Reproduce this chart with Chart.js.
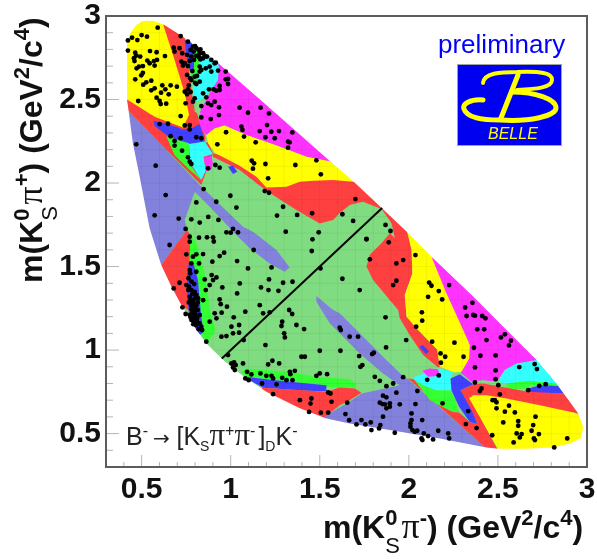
<!DOCTYPE html>
<html lang="en">
<head>
    <meta charset="UTF-8">
    <title>Dalitz plot B- to [Ks pi+ pi-]D K-</title>
    <script src="https://cdn.jsdelivr.net/npm/chart.js"></script>
    <style>
        body { margin: 0; background: #fff; }
        canvas { display: block; }
    </style>
</head>
<body>
    <canvas id="dalitz" width="597" height="559"></canvas>

    <script>
        const majorTicks = [0.5, 1, 1.5, 2, 2.5, 3];
        const minorTicks = [0.4, 0.6, 0.7, 0.8, 0.9, 1.1, 1.2, 1.3, 1.4, 1.6, 1.7, 1.8, 1.9, 2.1, 2.2, 2.3, 2.4, 2.6, 2.7, 2.8, 2.9];
        const axisMin = 0.3;
        const axisMax = 3;

        // kinematic boundary, clockwise on screen
        const outline = [[.418,2.497],[.418,2.836],[.436,2.896],[.47,2.946],[.507,2.97],[.564,2.972],[.629,2.946],[.732,2.876],[.826,2.806],[.919,2.727],[1.013,2.641],[1.2,2.467],[1.388,2.291],[1.556,2.132],[1.668,2.03],[1.8,1.898],[1.987,1.71],[2.127,1.559],[2.361,1.32],[2.548,1.12],[2.717,.94],[2.829,.8],[2.951,.62],[2.979,.54],[2.964,.47],[2.904,.44],[2.81,.417],[2.66,.41],[2.5,.41],[2.436,.417],[2.174,.471],[1.893,.521],[1.668,.561],[1.537,.591],[1.388,.651],[1.2,.751],[1.088,.83],[1.013,.89],[.948,.95],[.863,1.04],[.788,1.15],[.723,1.27],[.667,1.38],[.61,1.51],[.545,1.73],[.489,2.038],[.451,2.238],[.429,2.417],[.418,2.497]];

        // bins, listed from the bottom layer up
        const periLeft = [[.423,2.437],[.62,2.218],[.826,1.988],[1.069,1.738],[1.125,1.709],[1.257,1.599],[1.331,1.495],[1.303,1.469],[1.219,1.519],[1.107,1.609],[1.022,1.699],[.882,1.858],[.798,1.948],[.742,1.778],[.755,1.719],[.61,1.51],[.4,1.5],[.32,2.4]];
        const periRight = [[1.481,1.323],[1.575,1.24],[1.612,1.22],[1.724,1.1],[1.855,.96],[1.968,.844],[1.996,.826],[2.436,.41],[2.2,.4],[1.6,.5],[1.5,.55],[1.519,.601],[1.668,.69],[1.734,.74],[1.949,.79],[1.855,.86],[1.724,.98],[1.612,1.1],[1.556,1.16],[1.481,1.29]];
        const greenBottom = [[1.06,.87],[1.088,.89],[1.313,.87],[1.481,.84],[1.668,.826],[1.702,.796],[1.696,.775],[1.612,.776],[1.537,.78],[1.537,.79],[1.388,.805],[1.2,.826],[1.088,.84]];
        const blueBottom = [[1.088,.84],[1.2,.826],[1.388,.805],[1.537,.79],[1.537,.754],[1.425,.756],[1.182,.775],[1.107,.82]];
        const redBottom = [[1.178,.775],[1.537,.75],[1.612,.776],[1.696,.77],[1.734,.745],[1.668,.7],[1.612,.67],[1.537,.607],[1.4,.5],[1.15,.7]];
        const redLeft = [[.755,1.719],[.773,1.689],[.77,1.529],[.755,1.459],[.76,1.32],[.773,1.23],[.723,1.27],[.6,1.3],[.61,1.51]];
        const greenLeft = [[.773,1.695],[.807,1.639],[.826,1.579],[.854,1.459],[.891,1.2],[.916,1.12],[.867,1.036],[.826,1.1],[.77,1.529]];
        const blueLeft = [[.766,1.529],[.788,1.529],[.816,1.42],[.835,1.2],[.848,1.11],[.826,1.09],[.77,1.18],[.755,1.32],[.755,1.459]];
        const redTop = [[.62,2.952],[.741,2.876],[.788,2.497],[.835,2.337],[.9,2.178],[.835,1.988],[.62,2.218],[.423,2.437],[.414,2.507],[.732,2.333]];
        const yellowLobe = [[.62,2.952],[.685,2.737],[.742,2.537],[.766,2.407],[.732,2.333],[.573,2.397],[.423,2.497],[.38,2.5],[.38,3],[.6,3]];
        const blueUpper = [[.741,2.856],[.779,2.846],[.794,2.796],[.798,2.677],[.77,2.667],[.755,2.737]];
        const greenUpper = [[.785,2.826],[.845,2.786],[.822,2.716],[.807,2.607],[.783,2.607],[.773,2.667],[.798,2.677],[.794,2.796]];
        const magentaTop = [[.92,2.727],[.95,2.75],[1.6,2.15],[1.556,2.124],[1.425,2.158],[1.257,2.224],[1.088,2.288],[.966,2.345],[.91,2.327],[.863,2.288],[.83,2.327],[.822,2.417],[.891,2.557]];
        const cyanUpper = [[.835,2.78],[.934,2.707],[.929,2.617],[.891,2.557],[.835,2.497],[.792,2.487],[.788,2.597],[.816,2.617],[.822,2.716]];
        const paleUpper = [[.792,2.487],[.826,2.487],[.83,2.407],[.798,2.427]];
        const blueWaist = [[.567,2.373],[.639,2.357],[.732,2.321],[.779,2.327],[.826,2.353],[.848,2.278],[.854,2.242],[.766,2.234],[.648,2.281],[.573,2.341]];
        const greenWaist = [[.639,2.278],[.766,2.238],[.766,2.118],[.835,2.018],[.77,2.078],[.685,2.168]];
        const cyanWaist = [[.766,2.234],[.854,2.248],[.9,2.174],[.848,2.158],[.86,2.074],[.835,2.018],[.773,2.118]];
        const magentaWaist = [[.848,2.154],[.891,2.162],[.9,2.118],[.891,2.078],[.863,2.072]];
        const paleWaist = [[.86,2.288],[.878,2.242],[.854,2.242]];
        const redRight = [[.9,2.178],[1.388,2.038],[1.668,2.038],[1.8,1.95],[1.99,1.72],[2.015,1.6],[2.02,1.459],[1.977,1.33],[1.987,1.2],[2.052,1.12],[2.159,1.004],[2.174,.9],[2.164,.896],[2.08,.97],[2.005,1.09],[1.949,1.19],[1.94,1.24],[1.799,1.42],[1.762,1.5],[1.781,1.57],[1.846,1.639],[1.893,1.699],[1.921,1.671],[1.903,1.76],[1.847,1.844],[1.742,1.888],[1.668,1.868],[1.612,1.82],[1.575,1.778],[1.5,1.758],[1.369,1.838],[1.2,1.954],[1.05,2.078],[.9,2.158]];
        const yellowMiddle = [[.863,2.288],[.91,2.327],[.966,2.345],[1.088,2.288],[1.257,2.224],[1.425,2.158],[1.556,2.13],[1.72,2],[1.687,2.008],[1.575,2.018],[1.462,2.014],[1.388,2.008],[1.313,1.978],[1.2,1.974],[1.144,2.038],[1.05,2.104],[.91,2.182],[.873,2.238]];
        const blueStripe = [[.985,2.098],[1.013,2.104],[1.037,2.068],[1.013,2.054]];
        const blueEllipse = [[2.058,1.02],[2.08,1.03],[2.114,.99],[2.095,.976]];
        const magentaRight = [[2.127,1.559],[2.3,1.5],[2.75,.98],[2.717,.93],[2.605,.92],[2.539,.88],[2.492,.81],[2.408,.82],[2.352,.81],[2.296,.86],[2.2,1.1]];
        const yellowRight = [[1.99,1.709],[2,1.75],[2.15,1.58],[2.127,1.559],[2.211,1.34],[2.305,1.12],[2.342,1.03],[2.339,.95],[2.296,.87],[2.258,.865],[2.174,.9],[2.159,1.004],[2.052,1.12],[1.987,1.2],[1.977,1.33],[2.02,1.459],[2.015,1.6]];
        const cyanRight = [[2.717,.94],[2.85,.8],[2.829,.796],[2.679,.815],[2.548,.797],[2.501,.81],[2.539,.88],[2.605,.92]];
        const greenRight = [[2.548,.8],[2.679,.816],[2.829,.797],[2.848,.78],[2.679,.79],[2.67,.77],[2.548,.766]];
        const blueRight = [[2.67,.77],[2.735,.79],[2.839,.785],[2.87,.74],[2.735,.74],[2.67,.75]];
        const paleRight = [[2.408,.82],[2.492,.81],[2.501,.78],[2.436,.79]];
        const redLower = [[1.996,.83],[2.028,.826],[2.118,.7],[2.249,.63],[2.282,.627],[2.342,.57],[2.384,.557],[2.29,.76],[2.361,.796],[2.417,.8],[2.501,.784],[2.67,.75],[2.87,.74],[2.96,.62],[2.339,.72],[2.5,.4],[2.436,.41]];
        const yellowLower = [[2.339,.71],[2.361,.73],[2.436,.73],[2.548,.71],[2.735,.67],[2.923,.627],[2.96,.61],[3,.6],[3,.38],[2.5,.38],[2.5,.41]];
        const greenLower = [[2.028,.83],[2.08,.79],[2.155,.76],[2.23,.76],[2.258,.71],[2.282,.63],[2.249,.63],[2.118,.7]];
        const cyanLower = [[2.033,.84],[2.164,.89],[2.249,.87],[2.234,.83],[2.239,.76],[2.155,.76],[2.08,.79],[2.028,.826]];
        const magentaLower = [[2.076,.876],[2.118,.89],[2.164,.885],[2.174,.846],[2.108,.84]];
        const paleLower = [[2.249,.86],[2.271,.87],[2.282,.846],[2.258,.84]];
        const blueLower = [[2.234,.83],[2.286,.856],[2.361,.796],[2.29,.76],[2.352,.64],[2.384,.557],[2.342,.57],[2.282,.66],[2.239,.76]];

        const diagonal = [[.95,.95],[1.85,1.85]];

        // events
        const eventsLobe = [[.59,2.93],[.5,2.886],[.446,2.87],[.423,2.854],[.476,2.856],[.53,2.876],[.423,2.793],[.464,2.78],[.547,2.79],[.584,2.783],[.47,2.763],[.492,2.757],[.457,2.747],[.46,2.73],[.532,2.733],[.545,2.717],[.569,2.73],[.586,2.737],[.631,2.76],[.573,2.703],[.507,2.7],[.485,2.697],[.472,2.687],[.507,2.66],[.498,2.645],[.464,2.621],[.554,2.613],[.526,2.603],[.509,2.589],[.573,2.567],[.554,2.555],[.633,2.561],[.616,2.585],[.663,2.585],[.698,2.577],[.609,2.541],[.652,2.531],[.584,2.511],[.601,2.491],[.607,2.473],[.638,2.475],[.481,2.491]];
        const eventsTopCluster = [[.719,2.88],[.68,2.81],[.713,2.807],[.685,2.787],[.728,2.777],[.76,2.846],[.788,2.817],[.807,2.807],[.82,2.797],[.845,2.777],[.867,2.757],[.891,2.737],[.916,2.721],[.775,2.797],[.792,2.787],[.826,2.777],[.755,2.767],[.779,2.757],[.723,2.727],[.742,2.717],[.77,2.731],[.732,2.703],[.755,2.647],[.773,2.627],[.798,2.637],[.811,2.641],[.826,2.667],[.835,2.677],[.86,2.687],[.882,2.697],[.891,2.667],[.826,2.697],[.91,2.717],[.807,2.761],[.822,2.753],[.794,2.737],[.845,2.747],[.779,2.617],[.76,2.561],[.742,2.547],[.755,2.531],[.807,2.593],[.826,2.607],[.845,2.537],[.878,2.561],[.904,2.561],[.919,2.553],[.938,2.557],[.863,2.513],[.91,2.487],[.891,2.467],[.873,2.477],[.747,2.477],[.788,2.487],[.798,2.507],[.835,2.461],[.8,2.82],[.83,2.8],[.855,2.76],[.83,2.74],[.76,2.7],[.785,2.67],[.8,2.6],[.765,2.585],[.775,2.545]];
        const eventsMagentaTop = [[.929,2.673],[.972,2.667],[.985,2.623],[.972,2.621],[.985,2.593],[.938,2.581],[1.05,2.451],[1.097,2.421],[1.168,2.451],[1.215,2.417],[1.204,2.347],[1.228,2.307],[1.271,2.311],[1.163,2.311],[1.346,2.303],[1.195,2.274],[1.247,2.268],[1.322,2.248],[1.331,2.244],[1.322,2.212],[.888,2.383],[.934,2.407],[.934,2.453],[.835,2.393],[1.06,2.338],[1.066,2.318],[.719,2.401],[.77,2.347],[.77,2.321],[.742,2.345],[.648,2.355],[.601,2.353]];
        const eventsWaist = [[.719,2.268],[.663,2.28],[.685,2.252],[.685,2.224],[.727,2.194],[.76,2.154],[.77,2.128],[.779,2.114],[.807,2.274],[.835,2.268],[.47,2.232],[.579,2.104],[.635,1.928],[.573,1.807],[.708,1.787],[.807,1.884],[.848,1.964],[.919,1.888],[.998,1.924],[1.032,1.853],[1.191,1.952],[1.215,1.942],[.925,2.232],[.974,2.304],[1.075,2.278],[1.14,2.244],[1.118,2.134],[1.131,2.118],[1.125,2.086],[1.195,2.114],[1.363,2.108],[1.481,2.136],[1.506,2.052],[1.21,2.028],[1.294,1.858],[1.26,1.805],[1.373,1.809],[1.457,1.819],[1.494,1.705],[1.309,1.709],[1.459,1.663],[.914,2.108],[.938,2.092],[.873,2.088],[.779,1.783],[.826,1.763],[.874,1.797],[.931,1.779],[.747,1.725],[.77,1.679],[.822,1.673],[.867,1.675],[.901,1.675],[.976,1.705],[1.013,1.725],[1,1.703],[1.041,1.705],[1.7,1.904],[1.627,1.813],[1.687,1.773],[1.869,1.749],[1.897,1.713],[1.762,1.665]];
        const eventsLeft = [[.657,1.629],[.77,1.649],[.905,1.65],[1.129,1.599],[1.455,1.593],[.751,1.573],[.779,1.519],[.77,1.479],[.773,1.459],[.807,1.573],[.788,1.559],[.845,1.575],[.822,1.519],[.807,1.469],[.854,1.423],[.713,1.403],[.68,1.369],[.751,1.389],[.766,1.379],[.779,1.359],[.798,1.349],[.77,1.319],[.807,1.329],[.817,1.309],[.788,1.299],[.779,1.269],[.807,1.269],[.798,1.239],[.77,1.21],[.788,1.196],[.811,1.19],[.826,1.21],[.798,1.17],[.817,1.16],[.835,1.14],[.747,1.216],[.729,1.256],[.845,1.299],[.86,1.359],[.882,1.389],[.901,1.419],[.893,1.449],[.92,1.435],[.963,1.583],[.938,1.563],[.897,1.529],[1.036,1.533],[1.097,1.489],[1.051,1.399],[.953,1.375],[1.036,1.339],[.938,1.303],[.944,1.275],[.979,1.26],[.949,1.224],[.91,1.22],[.92,1.19],[1.017,1.196],[1.004,1.14],[1.047,1.15],[.882,1.17],[.976,1.084],[.948,1.08],[1.013,1.1],[1.047,1.104],[1.073,1.06],[1.082,1.23],[.863,1.05]];
        const eventsBlueBand = [[.763,1.43],[.78,1.41],[.795,1.395],[.762,1.36],[.785,1.335],[.8,1.31],[.775,1.3],[.79,1.28],[.765,1.285],[.815,1.285],[.8,1.255],[.78,1.245],[.815,1.24],[.785,1.225],[.8,1.215],[.78,1.18],[.805,1.2],[.79,1.185],[.775,1.195],[.81,1.17],[.79,1.155],[.805,1.15],[.825,1.16],[.82,1.125],[.84,1.12]];
        const eventsCentre = [[1.215,1.423],[1.17,1.375],[1.212,1.359],[1.294,1.403],[1.347,1.409],[1.268,1.355],[1.229,1.495],[1.504,1.489],[1.627,1.427],[1.163,1.269],[1.182,1.22],[1.219,1.226],[1.328,1.24],[1.345,1.216],[1.289,1.17],[1.285,1.144],[1.369,1.15],[1.412,1.126],[1.3,1.1],[1.304,1.076],[1.195,1.03],[1.5,.996],[1.616,.996],[1.397,.96],[1.416,.96]];
        const eventsBottomLeft = [[.985,.97],[1.004,.92],[1.019,.926],[1.028,.91],[1.013,.896],[1.023,.88],[1.069,.92],[1.21,.914],[1.234,.936],[1.272,.92],[1.092,.87],[1.116,.854],[1.167,.86],[1.2,.846],[1.229,.846],[1.238,.83],[1.289,.834],[1.313,.82],[1.332,.87],[1.36,.876],[1.335,.856],[1.347,.82],[1.481,.846],[1.5,.86],[1.541,.856],[1.082,.83],[1.101,.82],[1.176,.8],[1.257,.795],[1.238,.736],[1.547,.746],[1.56,.74],[1.566,.69],[1.453,.71],[1.388,.7],[1.448,.68],[1.44,.63],[1.506,.625],[1.547,.625],[1.644,.617],[1.665,.58],[1.654,.685]];
        const eventsRightUpper = [[1.762,1.663],[1.887,1.645],[2.037,1.569],[1.781,1.543],[1.968,1.539],[1.93,1.519],[1.93,1.415],[1.912,1.389],[1.724,1.359],[1.869,1.196],[2.114,1.404],[2.127,1.385],[2.168,1.353],[2.108,1.319],[2.187,1.303],[2.226,1.389],[2.357,1.283],[2.316,1.255],[2.324,1.204],[2.361,1.21],[2.371,1.206],[2.412,1.204],[2.43,1.19],[2.073,1.226],[2.075,1.176],[2.041,1.14],[2.384,1.124],[2.423,1.124],[2.436,1.06],[2.539,1.094],[2.517,1.076],[2.573,1.056],[2.562,1.028],[2.131,1.05],[2.256,1.044],[1.985,1.06],[2.365,1.014],[2.178,.98],[2.204,.96],[2.307,.96],[2.402,.966],[2.487,.968],[2.371,.896],[2.487,.878],[2.18,.924],[2.62,.898],[2.706,.916],[2.719,.886],[2.732,.786],[2.768,.796],[2.67,.76],[2.487,.826],[2.502,.79]];
        const eventsPeriRight = [[1.715,1.08],[1.668,1.08],[1.618,1.12],[1.612,1.134],[1.721,.964],[1.803,.984],[1.794,.976],[1.872,1.016],[1.739,.91],[1.728,.9],[1.809,.84],[1.837,.816],[1.874,.784],[1.912,.8],[1.968,.838],[2.168,.848],[2.103,.822],[2.048,.755],[1.93,.745],[1.855,.727],[1.874,.717],[1.837,.685],[1.852,.677],[1.865,.675],[1.893,.681],[1.893,.661],[1.874,.651],[1.949,.675],[2.037,.677],[2.189,.681],[1.734,.581],[1.706,.555],[1.756,.555],[1.786,.567],[1.79,.521],[1.84,.551],[1.833,.531],[1.855,.601],[1.921,.505],[2.015,.621],[2.075,.581],[2.015,.581],[2.009,.561],[2.009,.541],[2.02,.521],[2.033,.511],[2.047,.517],[2.071,.471],[2.084,.501],[2.076,.461],[2.108,.485],[2.136,.465],[2.165,.517],[2.221,.501],[2.226,.471],[2.32,.557],[2.38,.533],[2.333,.635]];
        const eventsYellowLower = [[2.371,.806],[2.408,.77],[2.399,.755],[2.511,.735],[2.47,.7],[2.483,.7],[2.492,.687],[2.492,.651],[2.562,.667],[2.539,.631],[2.595,.627],[2.711,.601],[2.698,.551],[2.53,.567],[2.614,.575],[2.614,.547],[2.689,.517],[2.73,.497],[2.605,.501],[2.633,.497],[2.623,.477],[2.702,.471],[2.708,.461],[2.588,.447],[2.889,.471],[2.816,.417],[2.468,.49]];

        const RED = '#ff4040', YELLOW = '#ffff00', PALE = '#80dc80', PERI = '#8282dc', MAGENTA = '#ff33ff', CYAN = '#33ffff', GREEN = '#33ff33', BLUE = '#4040ff';

        const layers = [
            [outline, PALE], [periLeft, PERI], [periRight, PERI],
            [greenBottom, GREEN], [blueBottom, BLUE], [redBottom, RED],
            [redLeft, RED], [greenLeft, GREEN], [blueLeft, BLUE],
            [redTop, RED], [yellowLobe, YELLOW], [magentaTop, MAGENTA],
            [blueUpper, BLUE], [greenUpper, GREEN], [cyanUpper, CYAN], [paleUpper, PALE],
            [blueWaist, BLUE], [greenWaist, GREEN], [cyanWaist, CYAN], [magentaWaist, MAGENTA], [paleWaist, PALE],
            [redRight, RED], [yellowMiddle, YELLOW], [blueStripe, BLUE], [blueEllipse, BLUE],
            [magentaRight, MAGENTA], [yellowRight, YELLOW], [cyanRight, CYAN], [greenRight, GREEN], [blueRight, BLUE], [paleRight, PALE],
            [redLower, RED], [yellowLower, YELLOW], [greenLower, GREEN], [cyanLower, CYAN], [magentaLower, MAGENTA], [paleLower, PALE], [blueLower, BLUE]
        ];

        const toPoints = list => list.map(p => ({x: p[0], y: p[1]}));
        const closed = list => toPoints(list.concat([list[0]]));

        const datasets = layers.map((layer, i) => ({
            data: closed(layer[0]),
            showLine: true,
            fill: 'shape',
            backgroundColor: layer[1],
            borderWidth: 0,
            pointRadius: 0,
            order: 200 - i
        }));

        // faint bin grid on the coloured part
        const gridPoints = [];
        majorTicks.concat(minorTicks).forEach(v => {
            gridPoints.push({x: v, y: axisMin}, {x: v, y: axisMax}, {x: null, y: null});
            gridPoints.push({x: axisMin, y: v}, {x: axisMax, y: v}, {x: null, y: null});
        });
        datasets.push({data: gridPoints, showLine: true, borderColor: 'rgba(0,0,0,0.05)', borderWidth: 1, pointRadius: 0, order: 3});

        // white everywhere outside the boundary
        const frame = [[axisMin, axisMin], [axisMax, axisMin], [axisMax, axisMax], [axisMin, axisMax], [axisMin, axisMin]];
        datasets.push({
            data: toPoints(frame.concat(outline, [frame[0]])),
            showLine: true,
            fill: 'shape',
            backgroundColor: '#ffffff',
            borderWidth: 0,
            pointRadius: 0,
            order: 2
        });

        datasets.push({data: toPoints(diagonal), showLine: true, borderColor: '#000', borderWidth: 2, pointRadius: 0, order: 1});

        datasets.push({
            data: toPoints([].concat(eventsLobe, eventsTopCluster, eventsMagentaTop, eventsWaist, eventsLeft, eventsBlueBand, eventsCentre, eventsBottomLeft, eventsRightUpper, eventsPeriRight, eventsYellowLower)),
            backgroundColor: '#000',
            borderWidth: 0,
            pointRadius: 2.4,
            order: 0
        });

        const SANS = '"Liberation Sans", Arial, sans-serif';

        // text with sub and superscripts: [text, font, shift, keepPosition]
        function drawRuns(ctx, runs, x, y) {
            ctx.textAlign = 'left';
            ctx.textBaseline = 'alphabetic';
            let pos = x;
            runs.forEach(r => {
                ctx.font = r[1];
                ctx.fillText(r[0], pos, y + (r[2] || 0));
                if (!r[3]) pos += ctx.measureText(r[0]).width;
            });
        }

        const big = 'bold 32px ' + SANS, small = 'bold 22px ' + SANS, thin = '22px ' + SANS, pi = '36px "Liberation Serif", serif';
        const titleX = [['m(K', big], ['0', small, -13, true], ['S', thin, 15], [' ', '6px ' + SANS], ['π', pi], ['-', small, -13], [') (GeV', big], ['2', small, -13], ['/c', big], ['4', small, -13], [')', big]];
        const titleY = [['m(K', big], ['0', small, -13, true], ['S', thin, 15], [' ', '6px ' + SANS], ['π', pi], ['+', small, -13], [') (GeV', big], ['2', small, -13], ['/c', big], ['4', small, -13], [')', big]];

        const note = '25px ' + SANS, noteUp = '16px ' + SANS, noteDown = '14px ' + SANS, notePi = '31px "Liberation Serif", serif';
        const annotation = [['B', note], ['-', noteUp, -9], [' ', '18px ' + SANS], ['→', '20px "DejaVu Sans", sans-serif'], [' ', '24px ' + SANS], ['[K', note], ['S', noteDown, 6], ['π', notePi], ['+', noteUp, -9], ['π', notePi], ['-', noteUp, -9], [' ', '11px ' + SANS], [']', note], ['D', noteDown, 6], ['K', note], ['-', noteUp, -9]];

        const decorations = {
            id: 'decorations',
            afterDraw(chart) {
                const ctx = chart.ctx, area = chart.chartArea, sx = chart.scales.x, sy = chart.scales.y;
                ctx.save();

                // inward ticks
                ctx.strokeStyle = '#b4b4b4';
                ctx.lineWidth = 1;
                const tick = (x1, y1, x2, y2) => { ctx.beginPath(); ctx.moveTo(x1, y1); ctx.lineTo(x2, y2); ctx.stroke(); };
                majorTicks.forEach(v => {
                    tick(sx.getPixelForValue(v), area.bottom, sx.getPixelForValue(v), area.bottom - 12);
                    tick(area.left, sy.getPixelForValue(v), area.left + 13, sy.getPixelForValue(v));
                });
                minorTicks.forEach(v => {
                    tick(sx.getPixelForValue(v), area.bottom, sx.getPixelForValue(v), area.bottom - 5);
                    tick(area.left, sy.getPixelForValue(v), area.left + 7, sy.getPixelForValue(v));
                });

                ctx.strokeStyle = '#5c5c5c';
                ctx.lineWidth = 2;
                ctx.strokeRect(area.left, area.top, area.right - area.left, area.bottom - area.top);

                // axis titles
                ctx.fillStyle = '#111';
                drawRuns(ctx, titleX, 323, 538);
                ctx.save();
                ctx.translate(42, 283);
                ctx.rotate(-Math.PI / 2);
                drawRuns(ctx, titleY, 0, 0);
                ctx.restore();

                ctx.fillStyle = '#222';
                drawRuns(ctx, annotation, 126, 445);

                ctx.fillStyle = '#0000ff';
                ctx.textAlign = 'left';
                ctx.font = '26px ' + SANS;
                ctx.fillText('preliminary', 438, 53);

                // Belle logo
                ctx.fillStyle = '#0000f0';
                ctx.fillRect(457.5, 64.5, 104, 81);
                ctx.strokeStyle = '#a0a0a0';
                ctx.lineWidth = 1;
                ctx.strokeRect(457.5, 64.5, 104, 81);
                ctx.strokeStyle = '#ffff00';
                ctx.lineCap = 'round';
                ctx.lineWidth = 4;
                ctx.beginPath();
                ctx.moveTo(483, 83);
                ctx.bezierCurveTo(484, 73, 500, 72, 517, 72);
                ctx.bezierCurveTo(540, 71, 553, 73, 552, 80);
                ctx.bezierCurveTo(552, 88, 535, 89, 517, 90);
                ctx.stroke();
                ctx.lineWidth = 5;
                ctx.beginPath();
                ctx.moveTo(483, 100);
                ctx.bezierCurveTo(470, 99, 462, 104, 464, 109);
                ctx.bezierCurveTo(467, 118, 482, 120, 500, 120);
                ctx.bezierCurveTo(530, 122, 556, 116, 556, 108);
                ctx.bezierCurveTo(556, 99, 535, 92, 512, 92);
                ctx.stroke();
                ctx.beginPath();
                ctx.moveTo(518, 75);
                ctx.lineTo(501, 118);
                ctx.stroke();
                ctx.fillStyle = '#ffff00';
                ctx.font = 'italic 16px ' + SANS;
                ctx.fillText('BELLE', 488, 139);

                ctx.restore();
            }
        };

        const axis = (extra) => Object.assign({
            type: 'linear',
            min: axisMin,
            max: axisMax,
            grid: {display: false, drawTicks: false},
            border: {display: false},
            afterBuildTicks: s => { s.ticks = majorTicks.map(v => ({value: v})); }
        }, extra);
        const tickStyle = {
            autoSkip: false,
            maxRotation: 0,
            color: '#111',
            font: {family: SANS, size: 30, weight: 'bold'},
            callback: v => String(v)
        };

        new Chart(document.getElementById('dalitz').getContext('2d'), {
            type: 'scatter',
            data: {datasets: datasets},
            options: {
                responsive: false,
                animation: false,
                layout: {padding: {left: 0, top: 16, right: 10, bottom: 0}},
                plugins: {legend: {display: false}, tooltip: {enabled: false}},
                scales: {
                    x: axis({
                        ticks: Object.assign({padding: 5}, tickStyle),
                        afterFit: s => { s.height = 92; s.paddingLeft = 0; s.paddingRight = 0; }
                    }),
                    y: axis({
                        ticks: Object.assign({padding: 5}, tickStyle),
                        afterFit: s => { s.width = 106; s.paddingTop = 0; s.paddingBottom = 0; }
                    })
                }
            },
            plugins: [decorations]
        });
    </script>
</body>
</html>
